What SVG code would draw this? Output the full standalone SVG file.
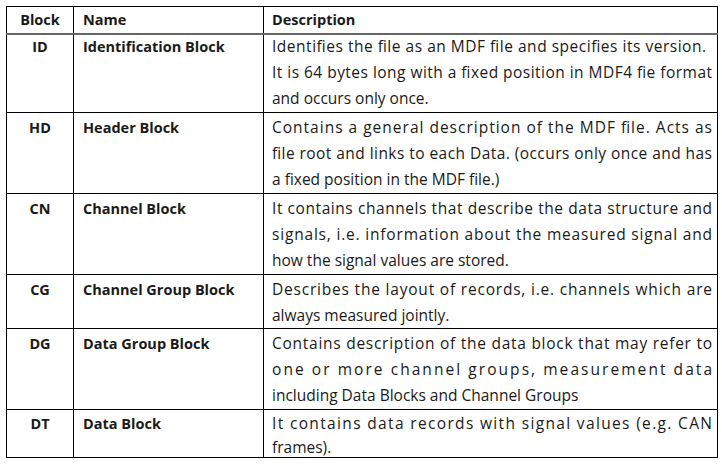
<svg xmlns="http://www.w3.org/2000/svg" width="722" height="469" viewBox="0 0 722 469">
<style>
text{font-family:"Open Sans","Liberation Sans",sans-serif;font-size:15.5px;fill:#1a1a1a}
.b{font-weight:bold;font-size:14.5px}
.c{text-anchor:middle}
.g line{stroke:#000;stroke-width:1}
</style>
<rect width="722" height="469" fill="#fff"/>
<g class="g">
<rect x="6.5" y="6.5" width="711" height="451" fill="none" stroke="#000"/>
<line x1="73.5" y1="6" x2="73.5" y2="458"/>
<line x1="263.5" y1="6" x2="263.5" y2="458"/>
<line x1="6" y1="112.5" x2="718" y2="112.5"/>
<line x1="6" y1="193.5" x2="718" y2="193.5"/>
<line x1="6" y1="274.5" x2="718" y2="274.5"/>
<line x1="6" y1="328.5" x2="718" y2="328.5"/>
<line x1="6" y1="409.5" x2="718" y2="409.5"/>
</g>
<line x1="6" y1="34" x2="718" y2="34" stroke="#666" stroke-width="2"/>
<g id="header">
<text class="b c" x="40" y="25">Block</text>
<text class="b" x="83" y="25">Name</text>
<text class="b" x="272" y="25">Description</text>
</g>
<g id="row-id">
<text class="b c" x="40" y="52">ID</text>
<text class="b" x="83" y="52">Identification Block</text>
<text x="272" y="52" textLength="434" lengthAdjust="spacing">Identifies the file as an MDF file and specifies its version.</text>
<text x="272" y="78" textLength="440" lengthAdjust="spacing">It is 64 bytes long with a fixed position in MDF4 fie format</text>
<text x="272" y="104">and occurs only once.</text>
</g>
<g id="row-hd">
<text class="b c" x="40" y="133">HD</text>
<text class="b" x="83" y="133">Header Block</text>
<text x="272" y="133" textLength="440" lengthAdjust="spacing">Contains a general description of the MDF file.  Acts as</text>
<text x="272" y="159" textLength="440" lengthAdjust="spacing">file root and links to each Data. (occurs only once and has</text>
<text x="272" y="185">a fixed position in the MDF file.)</text>
</g>
<g id="row-cn">
<text class="b c" x="40" y="214">CN</text>
<text class="b" x="83" y="214">Channel Block</text>
<text x="272" y="214" textLength="440" lengthAdjust="spacing">It contains channels that describe the data structure and</text>
<text x="272" y="240" textLength="440" lengthAdjust="spacing">signals, i.e. information about the measured signal and</text>
<text x="272" y="266">how the signal values are stored.</text>
</g>
<g id="row-cg">
<text class="b c" x="40" y="295">CG</text>
<text class="b" x="83" y="295">Channel Group Block</text>
<text x="272" y="295" textLength="440" lengthAdjust="spacing">Describes the layout of records, i.e. channels which are</text>
<text x="272" y="321">always measured jointly.</text>
</g>
<g id="row-dg">
<text class="b c" x="40" y="349">DG</text>
<text class="b" x="83" y="349">Data Group Block</text>
<text x="272" y="349" textLength="440" lengthAdjust="spacing">Contains description of the data block that may refer to</text>
<text x="272" y="375" textLength="440" lengthAdjust="spacing">one or more channel groups, measurement data</text>
<text x="272" y="401">including Data Blocks and Channel Groups</text>
</g>
<g id="row-dt">
<text class="b c" x="40" y="429">DT</text>
<text class="b" x="83" y="429">Data Block</text>
<text x="272" y="429" textLength="440" lengthAdjust="spacing">It contains data records with signal values (e.g. CAN</text>
<text x="272" y="453">frames).</text>
</g>
</svg>
